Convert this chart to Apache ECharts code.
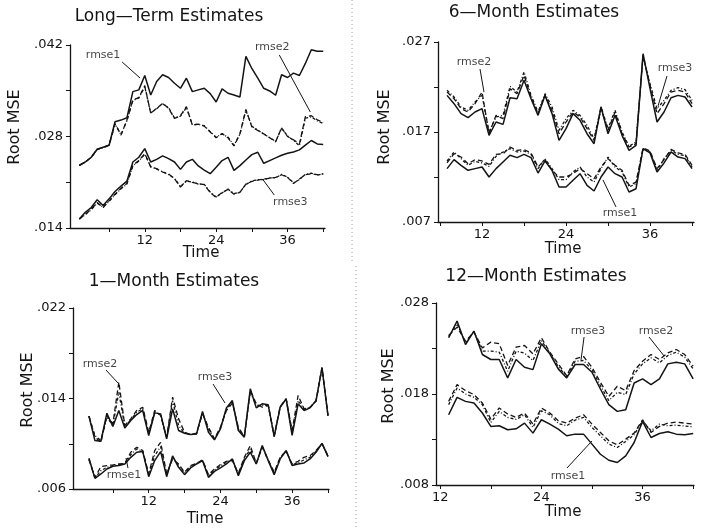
<!DOCTYPE html>
<html>
<head>
<meta charset="utf-8">
<script src="https://cdn.jsdelivr.net/npm/echarts@6/dist/echarts.min.js"></script>
<style>
  html, body { margin: 0; padding: 0; background: #fff; }
  #chart { width: 712px; height: 528px; }
</style>
</head>
<body>
<div id="chart"></div>
<script>
// ---------- Long-Term Estimates (t = 1..42) ----------
const ltStart = 1;
const ltUpper1 = [.02359, .02410, .02482, .02605, .02636, .02667, .03026, .03051, .03087, .03487, .03513, .03733, .03436, .03641, .03744, .03703, .03615, .03538, .03692, .03487, .03513, .03538, .03456, .03328, .03528, .03462, .03436, .03405, .04026, .03841, .03692, .03538, .03497, .03431, .03744, .03703, .03769, .03733, .03918, .04128, .04103, .04103];
const ltUpper2 = [.02359, .02410, .02482, .02605, .02636, .02667, .03000, .02821, .03051, .03359, .03395, .03579, .03154, .03231, .03308, .03231, .03077, .03118, .03256, .02974, .02990, .02959, .02867, .02780, .02846, .02780, .02656, .02841, .03215, .02949, .02892, .02841, .02780, .02718, .02933, .02800, .02749, .02687, .03103, .03118, .03056, .03015];
const ltUpper3 = [.02359, .02410, .02482, .02600, .02630, .02660, .02990, .02830, .03040, .03350, .03390, .03560, .03160, .03225, .03300, .03240, .03085, .03110, .03245, .02980, .02985, .02965, .02875, .02790, .02840, .02790, .02665, .02835, .03200, .02955, .02900, .02835, .02785, .02725, .02925, .02810, .02740, .02660, .03080, .03100, .03040, .03000];
const ltLower1 = [.01538, .01641, .01713, .01831, .01744, .01846, .01959, .02041, .02118, .02410, .02482, .02615, .02410, .02451, .02503, .02462, .02410, .02297, .02410, .02451, .02349, .02287, .02231, .02328, .02431, .02482, .02282, .02354, .02441, .02523, .02559, .02390, .02431, .02472, .02513, .02544, .02564, .02595, .02667, .02739, .02687, .02677];
const ltLower2 = [.01538, .01610, .01687, .01790, .01713, .01815, .01918, .02005, .02082, .02359, .02431, .02538, .02333, .02308, .02256, .02226, .02154, .02026, .02123, .02097, .02077, .02062, .01944, .01867, .01944, .01990, .01918, .01944, .02072, .02113, .02133, .02149, .02159, .02174, .02215, .02174, .02082, .02149, .02215, .02231, .02215, .02226];
const ltLower3 = [.01538, .01605, .01680, .01780, .01720, .01805, .01910, .02000, .02075, .02350, .02425, .02530, .02340, .02300, .02262, .02218, .02160, .02035, .02115, .02105, .02070, .02068, .01950, .01875, .01938, .01995, .01925, .01950, .02065, .02120, .02140, .02142, .02165, .02168, .02220, .02180, .02090, .02140, .02222, .02238, .02208, .02232];

// ---------- 6-Month Estimates (t = 7..42) ----------
const smStart = 7;
const smUpper1 = [.02107, .02015, .01904, .01859, .01922, .01959, .01663, .01811, .01785, .02081, .02070, .02274, .02070, .01885, .02107, .01904, .01607, .01737, .01904, .01830, .01681, .01570, .01978, .01681, .01885, .01663, .01496, .01552, .02570, .02181, .01811, .01922, .02081, .02107, .02089, .01978];
const smUpper2 = [.02144, .02070, .01959, .01922, .02015, .02144, .01681, .01885, .01848, .02181, .02126, .02330, .02089, .01904, .02107, .01941, .01681, .01811, .01922, .01867, .01737, .01607, .01959, .01719, .01922, .01681, .01533, .01570, .02552, .02218, .01904, .02015, .02144, .02163, .02144, .02015];
const smUpper3 = [.02163, .02089, .01978, .01941, .02033, .02107, .01700, .01867, .01885, .02207, .02144, .02367, .02107, .01922, .02126, .01978, .01719, .01848, .01941, .01885, .01774, .01626, .01978, .01737, .01941, .01700, .01541, .01589, .02541, .02237, .01959, .02052, .02163, .02193, .02170, .02052];
const smLower1 = [.01293, .01393, .01330, .01274, .01293, .01311, .01200, .01293, .01367, .01441, .01415, .01452, .01415, .01244, .01378, .01274, .01089, .01089, .01163, .01237, .01107, .01044, .01200, .01311, .01237, .01200, .01033, .01070, .01515, .01467, .01256, .01356, .01478, .01422, .01404, .01293];
const smLower2 = [.01356, .01459, .01422, .01348, .01393, .01378, .01341, .01452, .01459, .01533, .01496, .01504, .01467, .01311, .01393, .01274, .01200, .01200, .01237, .01293, .01237, .01181, .01311, .01404, .01330, .01274, .01107, .01144, .01522, .01489, .01293, .01393, .01507, .01467, .01452, .01330];
const smLower3 = [.01378, .01478, .01404, .01330, .01374, .01356, .01318, .01430, .01478, .01515, .01478, .01489, .01452, .01293, .01404, .01293, .01170, .01170, .01256, .01311, .01200, .01144, .01293, .01422, .01311, .01256, .01089, .01126, .01507, .01478, .01274, .01404, .01496, .01452, .01437, .01311];

// ---------- 1-Month Estimates (t = 2..42) ----------
const omStart = 2;
const omUpper1 = [.01244, .01028, .01022, .01270, .01152, .01294, .01140, .01205, .01258, .01294, .01072, .01273, .01264, .01043, .01309, .01117, .01093, .01081, .01087, .01285, .01102, .01034, .01131, .01317, .01382, .01117, .01058, .01486, .01317, .01353, .01344, .01063, .01323, .01397, .01075, .01353, .01294, .01317, .01382, .01672, .01249];
const omUpper2 = [.01244, .01058, .01013, .01249, .01176, .01545, .01161, .01220, .01294, .01323, .01102, .01294, .01249, .01058, .01412, .01220, .01102, .01081, .01093, .01264, .01146, .01043, .01146, .01294, .01359, .01146, .01063, .01471, .01353, .01323, .01338, .01072, .01329, .01397, .01117, .01427, .01309, .01323, .01376, .01672, .01249];
const omUpper3 = [.01244, .01072, .01028, .01235, .01161, .01456, .01152, .01211, .01279, .01309, .01087, .01279, .01258, .01052, .01382, .01161, .01093, .01081, .01087, .01273, .01131, .01037, .01140, .01303, .01368, .01131, .01063, .01456, .01338, .01338, .01341, .01066, .01323, .01397, .01093, .01382, .01306, .01320, .01379, .01672, .01249];
const omLower1 = [.00872, .00694, .00733, .00777, .00801, .00807, .00821, .00880, .00925, .00931, .00709, .00851, .00931, .00709, .00892, .00792, .00727, .00786, .00821, .00851, .00703, .00756, .00786, .00821, .00866, .00718, .00851, .00925, .00821, .00984, .00851, .00727, .00866, .00940, .00807, .00821, .00830, .00866, .00925, .01004, .00886];
const omLower2 = [.00857, .00703, .00798, .00807, .00813, .00821, .00827, .00925, .00969, .00940, .00733, .00940, .01013, .00733, .00866, .00821, .00748, .00807, .00827, .00857, .00727, .00777, .00816, .00845, .00851, .00739, .00880, .00984, .00827, .00969, .00857, .00748, .00880, .00934, .00821, .00845, .00880, .00895, .00940, .00999, .00895];
const omLower3 = [.00866, .00697, .00762, .00792, .00807, .00816, .00821, .00904, .00954, .00934, .00721, .00895, .00975, .00721, .00880, .00807, .00739, .00798, .00824, .00854, .00715, .00768, .00804, .00836, .00860, .00727, .00866, .00954, .00824, .00975, .00854, .00739, .00875, .00937, .00813, .00833, .00857, .00880, .00934, .01002, .00889];

// ---------- 12-Month Estimates (t = 13..42) ----------
const tmStart = 13;
const tmUpper1 = [.02418, .02601, .02344, .02491, .02234, .02179, .02179, .01977, .02179, .02094, .02068, .02352, .02241, .02076, .01977, .02124, .02124, .02039, .01855, .01683, .01609, .01627, .01921, .01966, .01903, .01966, .02131, .02149, .02131, .01966];
const tmUpper2 = [.02443, .02535, .02381, .02480, .02307, .02370, .02352, .02113, .02315, .02333, .02241, .02418, .02260, .02131, .02002, .02186, .02212, .02094, .01929, .01774, .01885, .01837, .02057, .02160, .02234, .02179, .02252, .02289, .02234, .02105];
const tmUpper3 = [.02432, .02572, .02363, .02488, .02271, .02271, .02260, .02050, .02271, .02249, .02168, .02388, .02249, .02102, .01991, .02160, .02168, .02065, .01892, .01727, .01819, .01793, .02021, .02131, .02197, .02142, .02223, .02260, .02204, .02076];
const tmLower1 = [.01572, .01763, .01719, .01701, .01591, .01444, .01451, .01407, .01418, .01480, .01370, .01517, .01469, .01414, .01341, .01359, .01359, .01249, .01138, .01072, .01047, .01120, .01267, .01499, .01322, .01366, .01385, .01359, .01352, .01366];
const tmLower2 = [.01719, .01903, .01837, .01793, .01701, .01524, .01646, .01580, .01543, .01591, .01469, .01646, .01591, .01506, .01480, .01535, .01572, .01469, .01377, .01286, .01241, .01304, .01370, .01517, .01377, .01444, .01480, .01491, .01480, .01469];
const tmLower3 = [.01683, .01866, .01800, .01763, .01683, .01488, .01609, .01543, .01521, .01572, .01433, .01616, .01572, .01477, .01451, .01513, .01543, .01433, .01341, .01249, .01212, .01278, .01352, .01506, .01396, .01469, .01451, .01458, .01447, .01440];

// ---------- Axis ticks and labels ----------
const timeTicks = [6, 12, 18, 24, 30, 36, 42];
const timeLabels = [12, 24, 36];
const ltYTicks = [0.014, 0.021, 0.028, 0.035, 0.042];
const ltYLabels = [0.014, 0.028, 0.042];
const smYTicks = [0.007, 0.012, 0.017, 0.022, 0.027];
const smYLabels = [0.007, 0.017, 0.027];
const omYTicks = [0.006, 0.010, 0.014, 0.018, 0.022];
const omYLabels = [0.006, 0.014, 0.022];
const tmYTicks = [0.008, 0.013, 0.018, 0.023, 0.028];
const tmYLabels = [0.008, 0.018, 0.028];

// ---------- Annotations: label point, leader start, leader end (t, value) ----------
const ltNotes = [
  { text: 'rmse1', at: [4.99, 0.04047], from: [8.19, 0.03940], to: [11.21, 0.03695] },
  { text: 'rmse2', at: [33.44, 0.04169], from: [34.62, 0.04047], to: [39.83, 0.03175] },
  { text: 'rmse3', at: [36.47, 0.01798], from: [33.77, 0.01905], to: [31.92, 0.02134] }
];
const smNotes = [
  { text: 'rmse2', at: [10.85, 0.02478], from: [11.71, 0.02400], to: [12.28, 0.02144] },
  { text: 'rmse3', at: [39.57, 0.02411], from: [38.42, 0.02322], to: [37.14, 0.01989] },
  { text: 'rmse1', at: [31.71, 0.00800], from: [31.14, 0.00867], to: [29.28, 0.01167] }
];
const omNotes = [
  { text: 'rmse2', at: [3.85, 0.01705], from: [4.85, 0.01652], to: [6.86, 0.01537] },
  { text: 'rmse3', at: [23.1, 0.01590], from: [22.76, 0.01528], to: [24.77, 0.01360] },
  { text: 'rmse1', at: [7.87, 0.00722], from: [8.53, 0.00785], to: [8.20, 0.00874] }
];
const tmNotes = [
  { text: 'rmse3', at: [29.53, 0.02492], from: [29.06, 0.02426], to: [28.70, 0.02174] },
  { text: 'rmse2', at: [37.6, 0.02492], from: [36.77, 0.02426], to: [38.55, 0.02218] },
  { text: 'rmse1', at: [27.16, 0.00899], from: [27.04, 0.00987], to: [30.0, 0.01284] }
];

// ---------- Layout ----------
const FONT = '"DejaVu Sans", sans-serif';
const INK = '#141414';

const panels = [
  { title: 'Long\u2014Term Estimates', titleAt: [169, 17], nameAt: [15, 127], timeAt: [201, 253],
    grid: { left: 70, top: 45, width: 255, height: 183 }, x: [-0.57, 42.3], y: [0.014, 0.042],
    yTicks: ltYTicks, yLabels: ltYLabels, start: ltStart,
    lines: [ltUpper1, ltUpper2, ltUpper3, ltLower1, ltLower2, ltLower3], notes: ltNotes },
  { title: '6\u2014Month Estimates', titleAt: [534, 13], nameAt: [385, 127], timeAt: [563, 249],
    grid: { left: 438, top: 42, width: 256, height: 180 }, x: [5.71, 42.28], y: [0.007, 0.027],
    yTicks: smYTicks, yLabels: smYLabels, start: smStart,
    lines: [smUpper1, smUpper2, smUpper3, smLower1, smLower2, smLower3], notes: smNotes },
  { title: '1\u2014Month Estimates', titleAt: [174, 282], nameAt: [28, 390], timeAt: [205, 519],
    grid: { left: 73, top: 308, width: 256, height: 181 }, x: [-0.67, 42.17], y: [0.006, 0.022],
    yTicks: omYTicks, yLabels: omYLabels, start: omStart,
    lines: [omUpper1, omUpper2, omUpper3, omLower1, omLower2, omLower3], notes: omNotes },
  { title: '12\u2014Month Estimates', titleAt: [536, 277], nameAt: [389, 386], timeAt: [563, 512],
    grid: { left: 436, top: 303, width: 258, height: 182 }, x: [11.5, 42.1], y: [0.008, 0.028],
    yTicks: tmYTicks, yLabels: tmYLabels, start: tmStart,
    lines: [tmUpper1, tmUpper2, tmUpper3, tmLower1, tmLower2, tmLower3], notes: tmNotes }
];

// solid = rmse1, dashed = rmse2, dash-dot = rmse3 (upper and lower groups)
const lineStyles = [
  { type: 'solid', width: 1.5 },
  { type: [5, 3], width: 1.3 },
  { type: [3, 2, 1, 2], width: 1.3 }
];

const grids = [], xAxes = [], yAxes = [], series = [], graphics = [];

panels.forEach((p, i) => {
  grids.push(Object.assign({ containLabel: false }, p.grid));
  const axisLine = { show: true, onZero: false, lineStyle: { color: INK, width: 1.3 } };
  xAxes.push({
    type: 'value', gridIndex: i, min: p.x[0], max: p.x[1],
    axisLine: axisLine,
    axisTick: { show: true, length: 4, lineStyle: { color: INK },
      customValues: timeTicks.filter(v => v >= p.x[0] && v <= p.x[1]) },
    axisLabel: { customValues: timeLabels, margin: 6, color: INK, fontSize: 13, fontFamily: FONT },
    splitLine: { show: false }
  });
  yAxes.push({
    type: 'value', gridIndex: i, min: p.y[0], max: p.y[1],
    axisLine: axisLine,
    axisTick: { show: true, length: 4, lineStyle: { color: INK }, customValues: p.yTicks },
    axisLabel: { customValues: p.yLabels, margin: 7, color: INK, fontSize: 13, fontFamily: FONT,
      formatter: v => v.toFixed(3).replace(/^0/, '') },
    splitLine: { show: false }
  });

  p.lines.forEach((vals, k) => {
    series.push({
      type: 'line', xAxisIndex: i, yAxisIndex: i, symbol: 'none', silent: true,
      data: vals.map((v, j) => [p.start + j, v]),
      lineStyle: Object.assign({ color: INK }, lineStyles[k % 3])
    });
  });

  p.notes.forEach(n => {
    series.push({
      type: 'line', xAxisIndex: i, yAxisIndex: i, symbol: 'none', silent: true, clip: false,
      data: [n.from, n.to], lineStyle: { color: INK, width: 1 }
    });
    series.push({
      type: 'scatter', xAxisIndex: i, yAxisIndex: i, symbolSize: 1, silent: true, clip: false,
      itemStyle: { color: 'rgba(0,0,0,0)' },
      data: [{ name: n.text, value: n.at }],
      label: { show: true, position: 'inside', formatter: '{b}', color: INK, fontSize: 11, fontFamily: FONT }
    });
  });

  graphics.push({ type: 'text', x: p.titleAt[0], y: p.titleAt[1],
    style: { text: p.title, font: '17px ' + FONT, fill: INK, align: 'center', verticalAlign: 'middle' } });
  graphics.push({ type: 'text', x: p.nameAt[0], y: p.nameAt[1], rotation: Math.PI / 2,
    style: { text: 'Root MSE', font: '16px ' + FONT, fill: INK, align: 'center', verticalAlign: 'middle' } });
  graphics.push({ type: 'text', x: p.timeAt[0], y: p.timeAt[1],
    style: { text: 'Time', font: '15px ' + FONT, fill: INK, align: 'center', verticalAlign: 'middle' } });
});

// faint page divider between the left and right columns
graphics.push({ type: 'line', shape: { x1: 352, y1: 0, x2: 352, y2: 262 },
  style: { stroke: '#9a9a9a', lineWidth: 1, lineDash: [1, 3] } });
graphics.push({ type: 'line', shape: { x1: 356, y1: 266, x2: 356, y2: 528 },
  style: { stroke: '#9a9a9a', lineWidth: 1, lineDash: [1, 3] } });

const chart = echarts.init(document.getElementById('chart'), null, { renderer: 'canvas' });
chart.setOption({
  animation: false,
  backgroundColor: '#fff',
  grid: grids,
  xAxis: xAxes,
  yAxis: yAxes,
  series: series,
  graphic: graphics
});
</script>
</body>
</html>
